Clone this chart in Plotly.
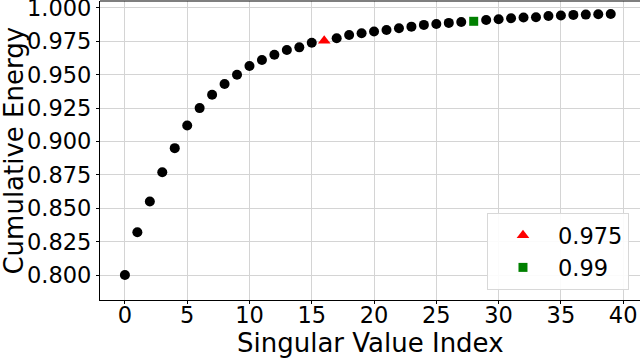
import plotly.graph_objects as go

# cumulative energy of singular values
index = list(range(40))
energy = [0.800, 0.832, 0.855, 0.877, 0.895, 0.912, 0.925, 0.935, 0.943, 0.950,
          0.9565, 0.961, 0.965, 0.9685, 0.9705, 0.974, 0.9755, 0.9773, 0.9798, 0.981,
          0.9823, 0.9835, 0.9848, 0.986, 0.9873, 0.988, 0.9888, 0.9895, 0.990, 0.991,
          0.9915, 0.9923, 0.9928, 0.993, 0.994, 0.9943, 0.9948, 0.995, 0.9953, 0.9955]
thresholds = [0.975, 0.99]
marked = [16, 28]
xticks = list(range(0, 41, 5))
yticks = [0.8, 0.825, 0.85, 0.875, 0.9, 0.925, 0.95, 0.975, 1.0]

font = "DejaVu Sans"
fig = go.Figure()

rest = [i for i in index if i not in marked]
fig.add_trace(go.Scatter(x=rest, y=[energy[i] for i in rest], mode='markers',
                         marker=dict(color='black', size=10), showlegend=False))
fig.add_trace(go.Scatter(x=[marked[0]], y=[energy[marked[0]]], mode='markers',
                         name=str(thresholds[0]),
                         marker=dict(color='red', size=11, symbol='triangle-up')))
fig.add_trace(go.Scatter(x=[marked[1]], y=[energy[marked[1]]], mode='markers',
                         name=str(thresholds[1]),
                         marker=dict(color='green', size=9, symbol='square')))

axis_common = dict(showgrid=True, gridcolor='#d4d4d4', gridwidth=1,
                   showline=True, linecolor='black', linewidth=1.2,
                   ticks='outside', ticklen=3, tickcolor='black',
                   tickfont=dict(family=font, size=22.5, color='black'),
                   zeroline=False, automargin=False, ticklabeloverflow='allow')

fig.update_xaxes(range=[-2, 41.35], tickvals=xticks, ticklabelstandoff=-8, **axis_common)
fig.update_yaxes(range=[0.7813, 1.0052], tickvals=yticks, tickformat='.3f', **axis_common)

# axis titles
fig.add_annotation(text='Singular Value Index', xref='paper', yref='paper',
                   x=0.5, y=-0.144, xanchor='center', yanchor='middle', showarrow=False,
                   font=dict(family=font, size=26, color='black'))
fig.add_annotation(text='Cumulative Energy', xref='paper', yref='paper',
                   x=-0.161, y=0.5, xanchor='center', yanchor='middle', showarrow=False,
                   textangle=-90, font=dict(family=font, size=26, color='black'))

fig.add_shape(type='line', xref='paper', yref='paper', x0=0, x1=1, y0=1, y1=1,
              line=dict(color='black', width=1.2))

fig.update_layout(
    width=640, height=358,
    margin=dict(l=100, r=0, t=1, b=58),
    plot_bgcolor='white', paper_bgcolor='white',
    font=dict(family=font, color='black'),
    legend=dict(x=0.9796, y=0.0334, xanchor='right', yanchor='bottom',
                bgcolor='rgba(255,255,255,0.9)', bordercolor='#d8d8d8', borderwidth=1,
                font=dict(family=font, size=22.5, color='black'),
                itemwidth=60, tracegroupgap=0),
)

fig.write_html("out.html", config={'displayModeBar': False},
               post_script="document.body.style.margin='0';")
